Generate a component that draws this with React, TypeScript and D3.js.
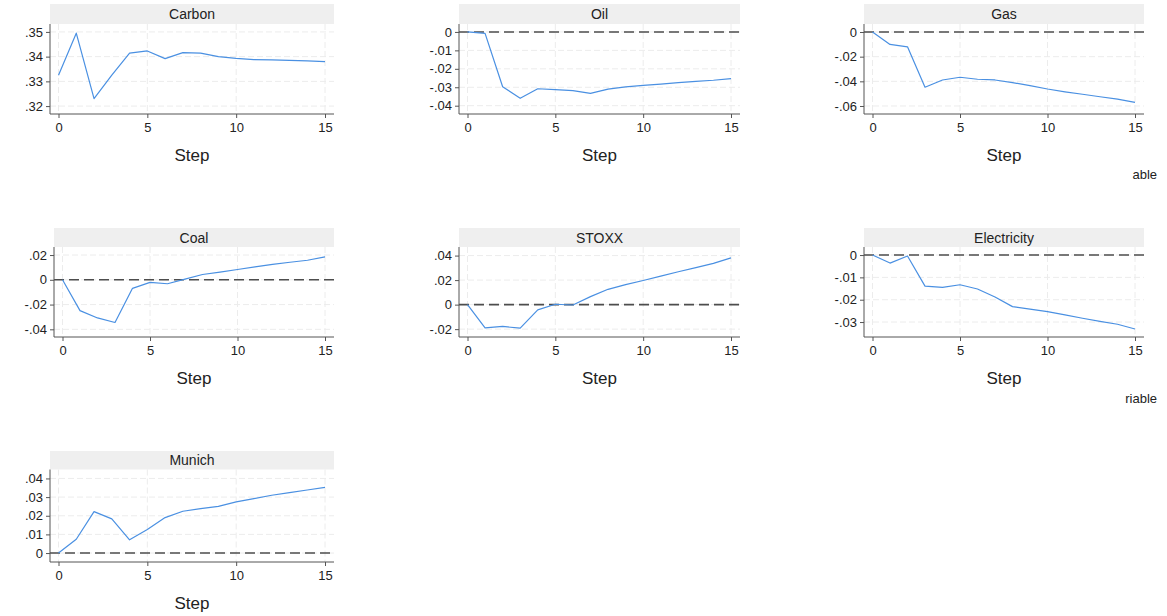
import React, { useEffect, useRef } from "react";
import * as d3 from "d3";

const steps = d3.range(0, 16);
const xTicks = [0, 5, 10, 15];

const titles = ["Carbon", "Oil", "Gas", "Coal", "STOXX", "Electricity", "Munich"];

const carbon = [.3325, .3495, .323, .3325, .3414, .3423, .3392, .3416, .3414, .3400, .3393, .3388, .3387, .3385, .3383, .3380];
const oil = [0, -.0008, -.0297, -.036, -.0308, -.0313, -.0318, -.0333, -.031, -.0298, -.029, -.0283, -.0275, -.0268, -.0262, -.0253];
const gas = [0, -.0101, -.012, -.0448, -.0389, -.0367, -.0383, -.0389, -.041, -.0435, -.0462, -.0485, -.0505, -.0525, -.0545, -.057];
const coal = [0, -.0249, -.0308, -.0345, -.0069, -.0021, -.0032, .0005, .0043, .0062, .0083, .0105, .0125, .0142, .0158, .0185];
const stoxx = [0, -.0189, -.0178, -.0192, -.0043, .0003, -.0003, .0065, .0125, .0163, .0197, .0232, .0268, .0302, .0337, .0381];
const electricity = [0, -.0036, -.0004, -.0139, -.0145, -.0133, -.0152, -.0188, -.0231, -.0242, -.0253, -.0268, -.0283, -.0297, -.031, -.0331];
const munich = [0, .0074, .0222, .0183, .0071, .0126, .019, .0224, .0238, .025, .0274, .0292, .031, .0324, .0338, .0352];

const yTicks = [
    [.32, .33, .34, .35],
    [-.04, -.03, -.02, -.01, 0],
    [-.06, -.04, -.02, 0],
    [-.04, -.02, 0, .02],
    [-.02, 0, .02, .04],
    [-.03, -.02, -.01, 0],
    [0, .01, .02, .03, .04],
];
// value range covered by the plot region (bottom, top)
const yDomains = [
    [.3168, .3532],
    [-.0445, .0043],
    [-.0665, .0065],
    [-.0462, .0265],
    [-.0264, .047],
    [-.0367, .0036],
    [-.0048, .0448],
];
const showZero = [false, true, true, true, true, true, true];
const series = [carbon, oil, gas, coal, stoxx, electricity, munich];

// layout: plot left edge per panel, column right edges, row tops
const plotLefts = [50, 459, 864, 54, 459, 864, 50];
const colRights = [334, 740, 1144];
const rows = [
    {head: 4, top: 24, bottom: 114},
    {head: 228, top: 247, bottom: 337},
    {head: 451, top: 469.5, bottom: 562},
];

function fmt(v: number) {
    if (Math.abs(v) < 1e-9) return "0";
    const s = (+v.toFixed(3)).toString();
    return s.replace(/^(-?)0\./, "$1.");
}

export default function App() {
    const ref = useRef<SVGSVGElement>(null);

    useEffect(() => {
        const svg = d3.select(ref.current);
        svg.selectAll("*").remove();
        const font = "'Liberation Sans', Arial, sans-serif";

        titles.forEach((title, i) => {
            const row = rows[Math.floor(i / 3)];
            const left = plotLefts[i];
            const right = colRights[i % 3];

            const x = d3.scaleLinear().domain([0, 15]).range([left + 8.5, right - 9]);
            const y = d3.scaleLinear().domain(yDomains[i]).range([row.bottom, row.top]);

            const g = svg.append("g");

            // header band
            g.append("rect")
                .attr("x", left).attr("y", row.head)
                .attr("width", right - left).attr("height", row.top - row.head)
                .attr("fill", "#efefef");
            g.append("text")
                .attr("x", (left + right) / 2).attr("y", (row.head + row.top) / 2 + 5)
                .attr("text-anchor", "middle")
                .attr("font-family", font).attr("font-size", 14)
                .attr("fill", "#222")
                .text(title);

            // grid
            g.append("g").selectAll("line")
                .data(yTicks[i])
                .join("line")
                .attr("x1", left).attr("x2", right)
                .attr("y1", d => y(d)).attr("y2", d => y(d))
                .attr("stroke", "#ececec").attr("stroke-dasharray", "6,3");
            g.append("g").selectAll("line")
                .data(xTicks)
                .join("line")
                .attr("x1", d => x(d)).attr("x2", d => x(d))
                .attr("y1", row.top).attr("y2", row.bottom)
                .attr("stroke", "#ececec").attr("stroke-dasharray", "6,3");

            // zero reference
            if (showZero[i]) {
                g.append("line")
                    .attr("x1", left).attr("x2", right)
                    .attr("y1", y(0)).attr("y2", y(0))
                    .attr("stroke", "#4d4d4d").attr("stroke-width", 1.6)
                    .attr("stroke-dasharray", "10,5");
            }

            // axes
            const ya = g.append("g")
                .attr("transform", "translate(" + left + ",0)")
                .call(d3.axisLeft(y).tickValues(yTicks[i]).tickFormat(d => fmt(+d)).tickSize(4).tickSizeOuter(0).tickPadding(3));
            const xa = g.append("g")
                .attr("transform", "translate(0," + row.bottom + ")")
                .call(d3.axisBottom(x).tickValues(xTicks).tickFormat(d => String(d)).tickSize(4).tickSizeOuter(0).tickPadding(5));
            [ya, xa].forEach(a => {
                a.select(".domain").remove();
                a.selectAll("line").attr("stroke", "#555");
                a.selectAll("text").attr("font-family", font).attr("font-size", 13).attr("fill", "#222");
            });
            g.append("line")
                .attr("x1", left).attr("x2", left)
                .attr("y1", row.top).attr("y2", row.bottom)
                .attr("stroke", "#555");
            g.append("line")
                .attr("x1", left).attr("x2", right)
                .attr("y1", row.bottom).attr("y2", row.bottom)
                .attr("stroke", "#555");

            g.append("text")
                .attr("x", (left + right) / 2).attr("y", row.bottom + 47)
                .attr("text-anchor", "middle")
                .attr("font-family", font).attr("font-size", 17)
                .attr("fill", "#222")
                .text("Step");

            // response line
            const line = d3.line<number>()
                .x((d, k) => x(steps[k]))
                .y(d => y(d));
            g.append("path")
                .datum(series[i])
                .attr("fill", "none")
                .attr("stroke", "#4a90e2")
                .attr("stroke-width", 1.2)
                .attr("stroke-linejoin", "round")
                .attr("d", line);
        });

        // clipped legend labels at the right edge
        [["able", 179], ["riable", 403]].forEach(([t, yy]) => {
            svg.append("text")
                .attr("x", 1157).attr("y", yy as number)
                .attr("text-anchor", "end")
                .attr("font-family", font).attr("font-size", 13)
                .attr("fill", "#222")
                .text(t as string);
        });
    }, []);

    return (
        <svg ref={ref} width={1167} height={616}
             style={{position: "absolute", left: 0, top: 0, background: "#fff"}}/>
    );
}
